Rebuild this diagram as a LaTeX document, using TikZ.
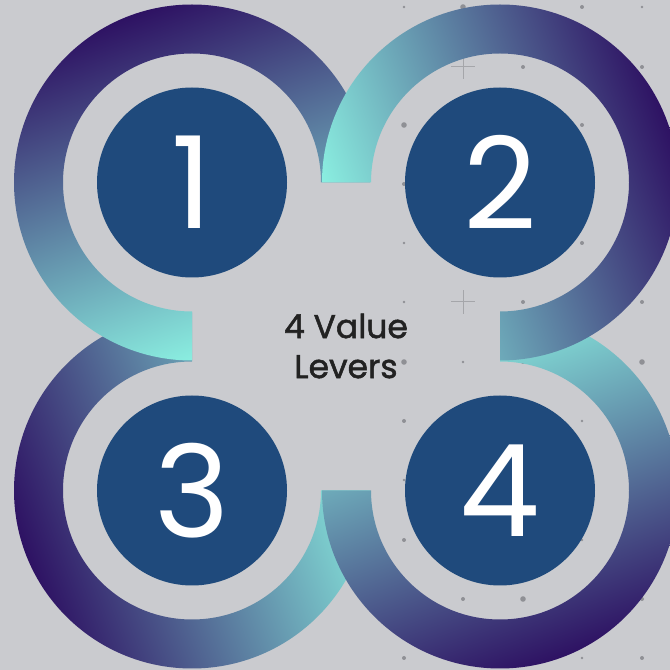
\documentclass[tikz,border=0pt]{standalone}
\usepackage{fontspec}
\setmainfont{Poppins}
\newfontfamily\leverfont{Poppins}[FakeBold=1.6]
\usepackage{xcolor}
\usepackage{tikz}

\definecolor{bgGrey}{HTML}{CACBCF}
\definecolor{ringDark}{HTML}{2E1263}
\definecolor{ringCyan}{HTML}{8DF5E4}
\definecolor{discBlue}{HTML}{1F4A7C}
\definecolor{dotGrey}{HTML}{8F9095}
\definecolor{labelInk}{HTML}{222222}

\tikzset{
  numdisc/.style={circle, fill=discBlue, minimum size=190pt, inner sep=0pt,
    text=white, font=\fontsize{128}{128}\selectfont},
  ring/.style={top color=ringDark, bottom color=ringCyan},
  griddot/.style={fill=dotGrey},
  gridcross/.style={draw=dotGrey!80!white, line width=1pt}
}

\begin{document}
\begin{tikzpicture}[x=1pt,y=1pt]
% The background
\useasboundingbox (0,0) rectangle (670,670);
\clip (0,0) rectangle (670,670);
\fill[bgGrey] (0,0) rectangle (670,670);

% The dots and crosses
\foreach \px/\py/\r in {404/663/1.3, 463/663/2.8, 582/663/2, 642/663/1.3,
  523/603/2, 642/603/2, 404/545/2.8, 582/545/2, 404/486/2,
  404/427/1.3, 582/427/2, 404/368/1.3, 523/368/2, 642/368/2,
  404/308/2.8, 463/308/1.3, 523/308/2, 642/308/2.8, 404/249/2, 582/249/1.3,
  404/190/1.3, 404/130/2, 582/130/1.3, 463/71/2, 523/71/2.8, 642/71/2,
  404/12/2, 582/12/1.3, 642/12/2}
  \fill[griddot] (\px,\py) circle (\r);
\foreach \py in {603,368}
  \draw[gridcross] (451,\py) -- (475,\py) (463,\py-12) -- (463,\py+12);

% The rings
\coordinate (c1) at (192,487.5);
\coordinate (c2) at (500,487.5);
\coordinate (c3) at (192,179.5);
\coordinate (c4) at (500,179.5);
\foreach \c/\a/\b/\ang in {c3/90/360/110, c1/0/270/20, c4/90/-180/200, c2/180/-90/-70}
  \shade[ring, shading angle=\ang] (\c) ++(\a:178)
    arc[start angle=\a, end angle=\b, radius=178] -- ++(\b:-49)
    arc[start angle=\b, end angle=\a, radius=129] -- cycle;

% The numbers
\node[numdisc] (n1) at (c1) {1};
\node[numdisc] (n2) at (c2) {2};
\node[numdisc] (n3) at (c3) {3};
\node[numdisc] (n4) at (c4) {4};

% The label
\node[font=\leverfont\fontsize{33}{40}\selectfont, text=labelInk, align=center]
  (levers) at (346,324) {4 Value\\Levers};
\end{tikzpicture}
\end{document}
